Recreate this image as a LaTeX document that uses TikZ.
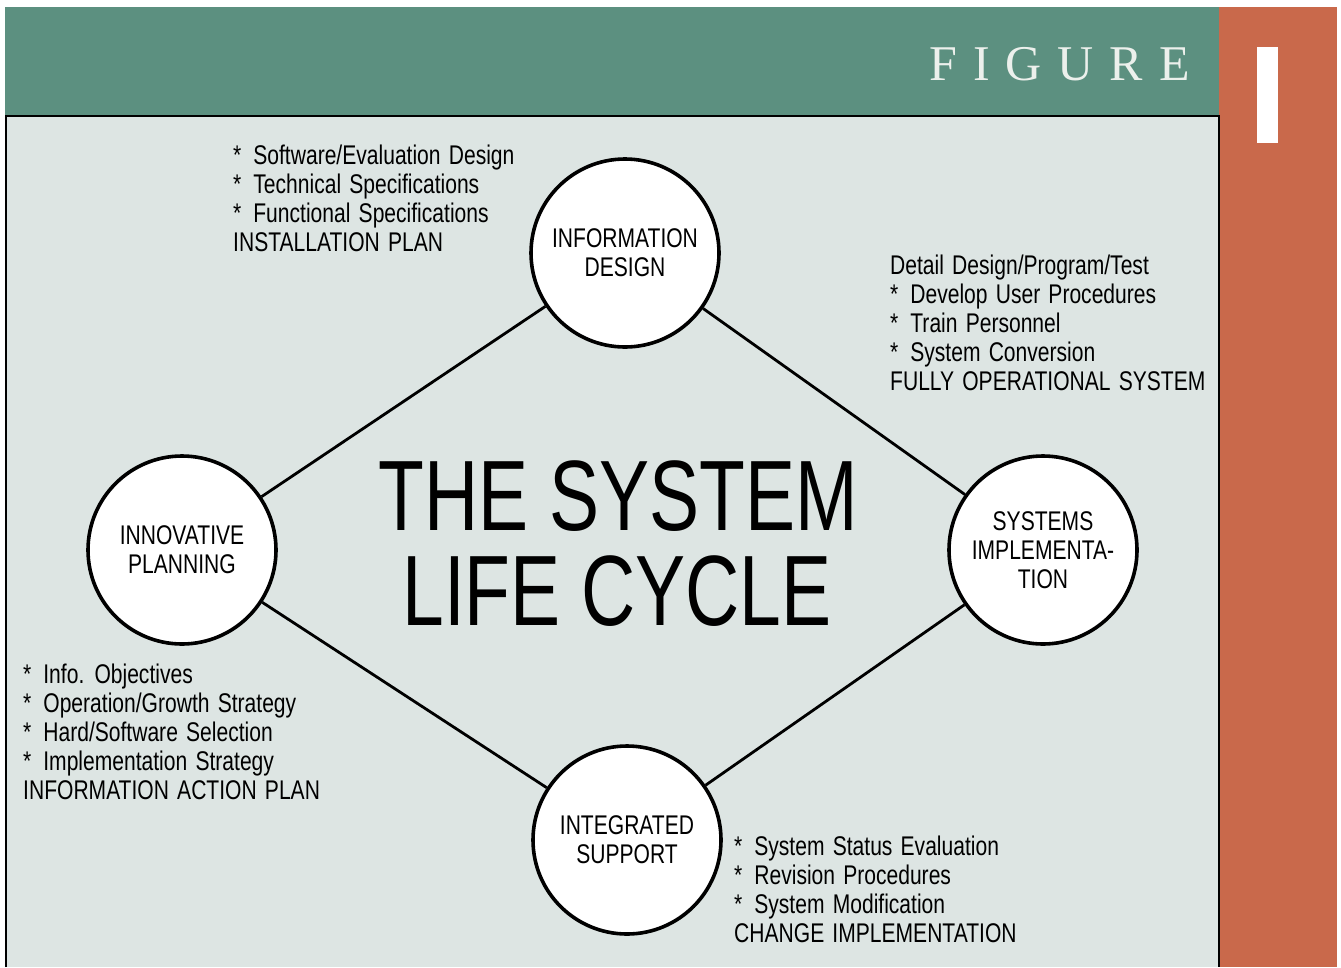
\documentclass[tikz,border=0pt]{standalone}
\usepackage{fontspec}
\setmainfont{Liberation Sans}[FakeStretch=0.78,WordSpace=1.4]
\newfontfamily\titlefont{Liberation Sans}[FakeStretch=0.75]
\newfontfamily\figfont{Liberation Serif}
\newcommand\bul{*\hspace{12pt}}
\definecolor{teal1}{RGB}{92,144,128}
\definecolor{rust}{RGB}{201,105,75}
\definecolor{panel}{RGB}{221,229,227}
\definecolor{figwhite}{RGB}{236,240,236}
\begin{document}
\begin{tikzpicture}[x=1pt,y=-1pt,
  phase/.style={circle, draw=black, line width=3.6pt, fill=white, minimum size=188pt,
    inner sep=0pt, align=center, font=\fontsize{27}{29}\selectfont},
  note/.style={anchor=north west, inner sep=0pt, align=left, font=\fontsize{27}{29}\selectfont},
  link/.style={line width=2.8pt, draw=black},
  bigtitle/.style={anchor=base, inner sep=0pt, font=\titlefont\fontsize{100}{95}\selectfont}]
\useasboundingbox (0,0) rectangle (1341,967);
\fill[white] (0,0) rectangle (1341,967);
% header band
\fill[teal1] (5,7) rectangle (1220,116);
\fill[rust] (1219,7) rectangle (1337,967);
\fill[white] (1257,47) rectangle (1278,143);
% panel
\fill[panel] (6,116) rectangle (1219,967);
\draw[line width=1.5pt] (6,967) -- (6,116) -- (1219,116) -- (1219,967);
\node[anchor=base east, inner sep=0pt, text=figwhite, font=\figfont\fontsize{50}{50}\selectfont] (fig) at (1190,80)
  {F\hspace{16pt}I\hspace{16pt}G\hspace{16pt}U\hspace{16pt}R\hspace{16pt}E};
% phases
\node[phase] (info) at (625,253) {INFORMATION\\DESIGN};
\node[phase] (innov) at (182,550) {INNOVATIVE\\PLANNING};
\node[phase] (impl) at (1043,550) {SYSTEMS\\IMPLEMENTA-\\TION};
\node[phase] (integ) at (627,840) {INTEGRATED\\SUPPORT};
\draw[link] (info) -- (innov);
\draw[link] (info) -- (impl);
\draw[link] (innov) -- (integ);
\draw[link] (impl) -- (integ);
% title
\node[bigtitle] (t1) at (618,530) {THE SYSTEM};
\node[bigtitle] (t2) at (617,625) {LIFE CYCLE};
% notes
\node[note] (n1) at (233,145) {\bul Software/Evaluation Design\\\bul Technical Specifications\\\bul Functional Specifications\\INSTALLATION PLAN};
\node[note] (n2) at (890,255) {Detail Design/Program/Test\\\bul Develop User Procedures\\\bul Train Personnel\\\bul System Conversion\\FULLY OPERATIONAL SYSTEM};
\node[note] (n3) at (23,664) {\bul Info. Objectives\\\bul Operation/Growth Strategy\\\bul Hard/Software Selection\\\bul Implementation Strategy\\INFORMATION ACTION PLAN};
\node[note] (n4) at (734,836) {\bul System Status Evaluation\\\bul Revision Procedures\\\bul System Modification\\CHANGE IMPLEMENTATION};
\end{tikzpicture}
\end{document}
